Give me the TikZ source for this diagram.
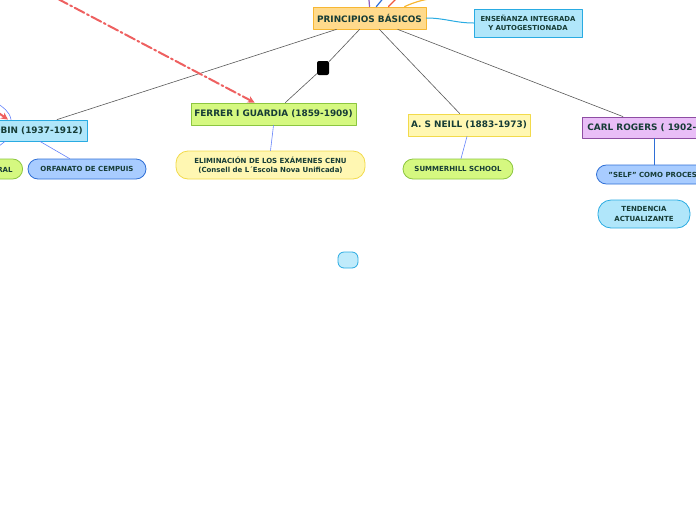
\documentclass[tikz,border=0pt]{standalone}
\usepackage{fontspec}
\setmainfont{DejaVu Sans}
\usetikzlibrary{calc,arrows.meta}
\definecolor{chu}{RGB}{22,60,54}
\definecolor{camnen}{RGB}{255,218,140}
\definecolor{camvien}{RGB}{247,183,51}
\definecolor{xanhnen}{RGB}{176,230,250}
\definecolor{xanhvien}{RGB}{41,171,226}
\definecolor{lanen}{RGB}{213,248,128}
\definecolor{lavien}{RGB}{140,198,63}
\definecolor{vangnen}{RGB}{255,247,178}
\definecolor{vangvien}{RGB}{242,218,75}
\definecolor{timnen}{RGB}{233,190,247}
\definecolor{timvien}{RGB}{142,77,163}
\definecolor{lamnen}{RGB}{168,204,255}
\definecolor{lamvien}{RGB}{47,111,214}
\definecolor{nhat}{RGB}{100,130,250}
\definecolor{dodut}{RGB}{238,96,96}

\begin{document}
\begin{tikzpicture}[x=1pt, y=-1pt, line join=round, line cap=round,
	chinh/.style={draw, line width=0.8pt, text=chu, inner sep=0pt, minimum height=22, font=\fontsize{8.9}{10}\selectfont\bfseries},
	phu/.style={draw, line width=0.8pt, text=chu, inner sep=0pt, rounded corners=10pt, minimum height=20, align=center, font=\fontsize{7}{9.5}\selectfont\bfseries},
	nhanh/.style={draw=black!65, line width=0.6pt},
	con/.style={draw=nhat, line width=0.6pt}]
	\path[use as bounding box, clip] (0,0) rectangle (696,520);
	% Nút gốc và các nhánh chính
	\node[chinh, fill=camnen, draw=camvien, minimum width=113] (principios) at (369.5,18) {PRINCIPIOS BÁSICOS};
	\node[chinh, fill=xanhnen, draw=xanhvien, minimum width=108, minimum height=28, align=center, font=\fontsize{6.9}{9.5}\selectfont\bfseries] (ens) at (528,23) {ENSEÑANZA INTEGRADA\\ Y AUTOGESTIONADA};
	\node[chinh, fill=lanen, draw=lavien, minimum width=165] (ferrer) at (273.5,114) {FERRER I GUARDIA (1859-1909)};
	\node[chinh, fill=xanhnen, draw=xanhvien, minimum height=21, inner xsep=5pt, anchor=east] (robin) at (88,130.5) {PAUL ROBIN (1937-1912)};
	\node[chinh, fill=vangnen, draw=vangvien, minimum width=122] (neill) at (469,125) {A. S NEILL (1883-1973)};
	\node[chinh, fill=timnen, draw=timvien, minimum height=21, inner xsep=5pt, anchor=west] (rogers) at (582,127.5) {CARL ROGERS ( 1902- 1987)};
	\node[fill=black, rounded corners=2pt, minimum width=12, minimum height=14, inner sep=0pt] (knot) at (323,68) {};
	% Các ý con
	\node[phu, fill=lanen, draw=lavien, inner xsep=10pt, anchor=east] (edu) at (23,169) {EDUCACIÓN INTEGRAL};
	\node[phu, fill=lamnen, draw=lamvien, minimum width=118] (orfanato) at (87,169) {ORFANATO DE CEMPUIS};
	\node[phu, fill=vangnen, draw=vangvien, minimum width=189, minimum height=28, rounded corners=12pt] (elim) at (270.5,165) {ELIMINACIÓN DE LOS EXÁMENES CENU\\ (Consell de L´Escola Nova Unificada)};
	\node[phu, fill=lanen, draw=lavien, minimum width=110] (summer) at (458,169) {SUMMERHILL SCHOOL};
	\node[phu, fill=lamnen, draw=lamvien, minimum height=19, inner xsep=12pt, anchor=west] (self) at (596,174.5) {"SELF" COMO PROCESO};
	\node[phu, fill=xanhnen, draw=xanhvien, minimum width=92, minimum height=28, rounded corners=13pt] (tend) at (644,214) {TENDENCIA\\ ACTUALIZANTE};
	\node[phu, fill=xanhnen!80, draw=xanhvien, minimum width=20, minimum height=16, rounded corners=6pt] (blank) at (348,260) {};
	% Đường nối
	\draw[nhanh] (principios.199) -- ($(robin.north east)+(-31,0)$);
	\draw[nhanh] (principios.229) -- (knot) -- (ferrer.44);
	\draw[nhanh] (principios.-49) -- (neill.129);
	\draw[nhanh] (principios.-22) -- ($(rogers.north west)+(41,0)$);
	\draw[draw=xanhvien, line width=1pt] (principios.east) to[out=0, in=180] (ens.west);
	\draw[con] (ferrer.south) -- (elim.north);
	\draw[con] ($(neill.south)+(-2,0)$) -- ($(summer.north)+(3,0)$);
	\draw[con] ($(robin.south east)+(-48,0)$) -- ($(orfanato.north west)+(42,0)$);
	\draw[con] ($(robin.south east)+(-83,0)$) -- ($(robin.south east)+(-92,7)$);
	\draw[draw=lamvien, line width=1pt] ($(self.north west)+(58,0)$) -- ($(rogers.south west)+(72,0)$);
	% Nhánh ra ngoài khung
	\coordinate (tren1) at (368,-10);
	\coordinate (tren2) at (390,-10);
	\coordinate (tren3) at (405,-10);
	\coordinate (tren4) at (470,-10);
	\draw[draw={rgb,255:red,142;green,91;blue,192}, line width=1.2pt] (principios.90) to[out=92, in=-88] (tren1);
	\draw[draw=lamvien, line width=1.2pt] (principios.59) -- (tren2);
	\draw[draw={rgb,255:red,240;green,90;blue,60}, line width=1.2pt] (principios.31) -- (tren3);
	\draw[draw=camvien, line width=1.2pt] (principios.18) to[out=25, in=-160] (tren4);
	\coordinate (xa1) at (41,-10);
	\coordinate (xa2) at (-14,104);
	\coordinate (xa3) at (-4,102);
	\draw[dodut, line width=2pt, dash pattern=on 11pt off 3pt on 2pt off 3pt, -{Stealth[length=7pt, width=7pt]}] (xa1) -- ($(ferrer.north west)+(64,0)$);
	\draw[dodut, line width=2pt, -{Stealth[length=7pt, width=7pt]}] (xa2) -- ($(robin.north east)+(-80,0)$);
	\draw[con] (xa3) to[out=-40, in=100] ($(robin.north east)+(-77,0)$);
\end{tikzpicture}
\end{document}
